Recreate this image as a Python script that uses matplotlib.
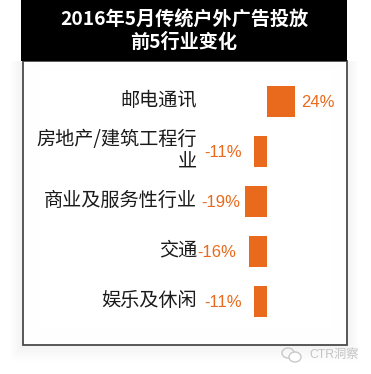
# -*- coding: utf-8 -*-
import matplotlib
matplotlib.use('Agg')
import matplotlib.pyplot as plt
from matplotlib.patches import Rectangle, Ellipse
from matplotlib.transforms import ScaledTranslation

W, H = 371, 374
CJK = ['Noto Sans CJK SC', 'DejaVu Sans']
LATIN_CJK = ['Liberation Sans', 'Noto Sans CJK SC']
ORANGE = '#e96a1c'

title = '2016年5月传统户外广告投放\n前5行业变化'
categories = ['邮电通讯', '房地产/建筑工程行\n业', '商业及服务性行业', '交通', '娱乐及休闲']
values = [24, -11, -19, -16, -11]
value_labels = ['24%', '-11%', '-19%', '-16%', '-11%']
# the labels sit by hand in the original, gap in px from the bar end
label_gaps = [7, 12, 5, 12, 12]

fig = plt.figure(figsize=(W / 100, H / 100), dpi=100, facecolor='white')

# background layer in pixel coords
bg = fig.add_axes([0, 0, 1, 1])
bg.set_xlim(0, W)
bg.set_ylim(H, 0)
bg.axis('off')

# soft shadow outside the frame
for i in range(12, 0, -1):
    bg.add_patch(Rectangle((22 - i, 61), 325 + 2 * i, 284 + i * 1.4,
                           fc='black', ec='none', alpha=0.003))
bg.add_patch(Rectangle((22, 61), 325, 284, fc='white', ec='none'))
# soft glow inside the frame
for i in range(16):
    bg.add_patch(Rectangle((23 + i, 62 + i * 0.5), 323 - 2 * i, 282 - i * 1.5,
                           fc='none', ec='black', lw=1, alpha=0.004))
bg.add_patch(Rectangle((22.5, 61), 324, 284, fc='none', ec='#4a4a4a', lw=1.3))
bg.add_patch(Rectangle((21, 0), 326, 61, fc='black', ec='none'))
bg.text(184, 31, title, color='white', fontsize=13.8, fontweight='bold',
        family=CJK, ha='center', va='center', linespacing=1.2)

# watermark
bg.add_patch(Ellipse((288, 353), 12, 10, fc='none', ec='#c8c8c8', lw=1))
bg.add_patch(Ellipse((295, 357), 12, 10, fc='white', ec='#c8c8c8', lw=1))
bg.text(309, 355, 'CTR洞察', color='#c4c4c4', fontsize=8.8, family=LATIN_CJK,
        ha='left', va='center')

# bars, axes starts at the right edge of the category labels
px_per_pct = 1.15
zero_px, top_px, row_px = 267, 101.5, 50
left, right, top, bottom = 197, 347, 61, 345
ax = fig.add_axes([left / W, 1 - bottom / H, (right - left) / W, (bottom - top) / H])
ax.patch.set_alpha(0)
ax.set_xlim((left - zero_px) / px_per_pct, (right - zero_px) / px_per_pct)
ax.set_ylim((bottom - top_px) / row_px, (top - top_px) / row_px)
ypos = list(range(len(categories)))
ax.barh(ypos, values, height=0.63, color=ORANGE)
ax.set_yticks(ypos)
ax.set_yticklabels(categories, family=CJK, fontsize=13.8, color='#1a1a1a',
                   linespacing=1.08)
ax.tick_params(axis='y', length=0, pad=0)
ax.set_xticks([])
for s in ax.spines.values():
    s.set_visible(False)

# category text sits a little above the bar centres
nudge = ScaledTranslation(0, 4 / 100, fig.dpi_scale_trans)
for lab in ax.get_yticklabels():
    lab.set_transform(lab.get_transform() + nudge)

for y, v, lab, gap in zip(ypos, values, value_labels, label_gaps):
    sign = 1 if v > 0 else -1
    ax.annotate(lab, (v, y), xytext=(sign * gap * 0.72, -0.7), textcoords='offset points',
                ha='left' if v > 0 else 'right', va='center', color=ORANGE,
                fontsize=12, family='Liberation Sans')

fig.savefig('out.png', dpi=100)
